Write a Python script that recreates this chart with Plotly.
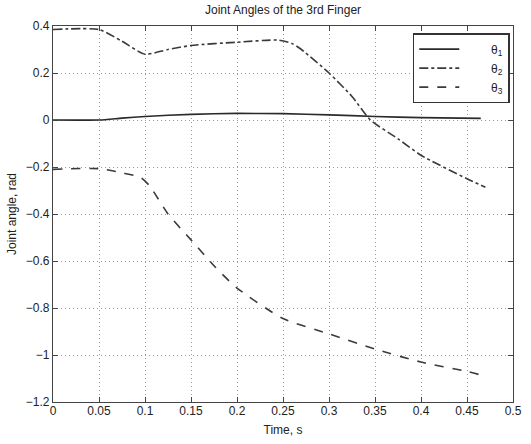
import plotly.graph_objects as go

# Time samples (s)
t1 = [0, 0.05, 0.075, 0.1, 0.15, 0.2, 0.25, 0.3, 0.35, 0.4, 0.465]
theta1 = [0, 0, 0.008, 0.015, 0.024, 0.028, 0.027, 0.022, 0.015, 0.01, 0.007]

t2 = [0, 0.05, 0.075, 0.1, 0.125, 0.15, 0.2, 0.245, 0.26, 0.27, 0.3, 0.325, 0.345, 0.375, 0.4, 0.45, 0.47]
theta2 = [0.385, 0.385, 0.335, 0.28, 0.3, 0.317, 0.331, 0.34, 0.325, 0.3, 0.2, 0.1, 0.0, -0.08, -0.15, -0.25, -0.286]

t3 = [0, 0.05, 0.075, 0.095, 0.105, 0.125, 0.15, 0.175, 0.2, 0.25, 0.3, 0.35, 0.4, 0.45, 0.465]
theta3 = [-0.21, -0.207, -0.225, -0.244, -0.28, -0.4, -0.51, -0.62, -0.715, -0.845, -0.91, -0.975, -1.03, -1.07, -1.085]

xticks = [0, 0.05, 0.1, 0.15, 0.2, 0.25, 0.3, 0.35, 0.4, 0.45, 0.5]
xlabels = ["0", "0.05", "0.1", "0.15", "0.2", "0.25", "0.3", "0.35", "0.4", "0.45", "0.5"]
yticks = [0.4, 0.2, 0, -0.2, -0.4, -0.6, -0.8, -1, -1.2]
ylabels = ["0.4", "0.2", "0", "\u22120.2", "\u22120.4", "\u22120.6", "\u22120.8", "\u22121", "\u22121.2"]

FONT = "Liberation Sans, Arial, sans-serif"
pad = "\u00a0" * 8
fig = go.Figure()
fig.add_trace(go.Scatter(x=t1, y=theta1, mode="lines", name=pad + "θ<sub>1</sub>",
                         line=dict(color="#2a2a2a", width=1.6, shape="spline", smoothing=0.6)))
fig.add_trace(go.Scatter(x=t2, y=theta2, mode="lines", name=pad + "θ<sub>2</sub>",
                         line=dict(color="#3a3a3a", width=1.6, dash="dashdot", shape="spline", smoothing=0.6)))
fig.add_trace(go.Scatter(x=t3, y=theta3, mode="lines", name=pad + "θ<sub>3</sub>",
                         line=dict(color="#3a3a3a", width=1.6, dash="dash", shape="spline", smoothing=0.6)))

axis_common = dict(
    showline=True, linecolor="#444", linewidth=1.2, mirror="allticks",
    ticks="inside", ticklen=5, tickcolor="#444",
    showgrid=True, gridcolor="#999999", griddash="1px,3px", gridwidth=1,
    zeroline=False, automargin=False,
    tickfont=dict(family=FONT, size=12, color="#222"),
)

fig.update_layout(
    width=531, height=444,
    margin=dict(l=53, r=18, t=26, b=42),
    paper_bgcolor="white", plot_bgcolor="white",
    title=dict(text="Joint Angles of the 3rd Finger", x=(53 + 513) / 2 / 531, xanchor="center",
               y=1 - 10 / 444, yanchor="middle",
               font=dict(family=FONT, size=12, color="#222")),
    xaxis=dict(range=[0, 0.5], tickvals=xticks, ticktext=xlabels, ticklabelstandoff=-3,
               title=dict(text="Time, s", standoff=9,
                          font=dict(family=FONT, size=12, color="#222")),
               **axis_common),
    yaxis=dict(range=[-1.2, 0.4], tickvals=yticks, ticktext=ylabels,
               title=dict(text="Joint angle, rad", standoff=6,
                          font=dict(family=FONT, size=12, color="#222")),
               **axis_common),
    legend=dict(x=0.993, y=0.981, xanchor="right", yanchor="top",
                bgcolor="white", bordercolor="#333", borderwidth=1.5,
                font=dict(family=FONT, size=12, color="#222"),
                tracegroupgap=0, itemwidth=40),
    showlegend=True,
)

fig.write_html("out.html", config={"displayModeBar": False},
               post_script="document.body.style.margin='0';document.body.style.overflow='hidden';")
